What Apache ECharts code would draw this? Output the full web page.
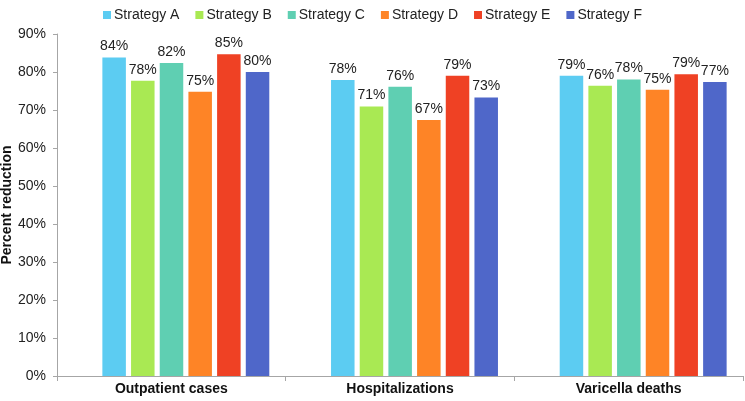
<!DOCTYPE html>
<html><head><meta charset="utf-8">
<script src="https://cdn.jsdelivr.net/npm/echarts@6/dist/echarts.min.js"></script>
<style>html,body{margin:0;padding:0;background:#fff}#c{width:745px;height:401px}</style>
</head><body><div id="c"></div>
<script>
const categories = ['Outpatient cases', 'Hospitalizations', 'Varicella deaths'];
const seriesNames = ['Strategy A', 'Strategy B', 'Strategy C', 'Strategy D', 'Strategy E', 'Strategy F'];
const strategyA = [83.8, 77.9, 79.0];
const strategyB = [77.7, 70.9, 76.4];
const strategyC = [82.4, 76.1, 78.0];
const strategyD = [74.8, 67.4, 75.3];
const strategyE = [84.7, 79.0, 79.4];
const strategyF = [80.0, 73.3, 77.4];
const colors = ['#5CCCF2', '#A9E953', '#5FCFB2', '#FE8426', '#EF4124', '#4F67C9'];
const allData = [strategyA, strategyB, strategyC, strategyD, strategyE, strategyF];
const font = 'Liberation Sans, Arial, sans-serif';

const chart = echarts.init(document.getElementById('c'), null, {renderer: 'canvas'});
chart.setOption({
  animation: false,
  color: colors,
  legend: {
    top: 3, left: 'center',
    icon: 'rect', itemWidth: 8, itemHeight: 8, itemGap: 16,
    textStyle: {fontFamily: font, fontSize: 14, color: '#222', padding: [0, 0, 0, -2]},
    data: seriesNames
  },
  grid: [
    {left: 57, width: 686, top: 34, bottom: 25, containLabel: false, outerBoundsMode: 'none'},
    {left: 71.5, width: 686, top: 34, bottom: 25, containLabel: false, outerBoundsMode: 'none'}
  ],
  xAxis: [{
    gridIndex: 0, type: 'category', data: categories,
    axisLine: {show: true, lineStyle: {color: '#A6A6A6'}},
    axisTick: {show: true, length: 5, lineStyle: {color: '#A6A6A6'}},
    axisLabel: {fontFamily: font, fontSize: 14, fontWeight: 'bold', color: '#111', margin: 6}
  }, {
    gridIndex: 1, type: 'category', data: categories, show: false
  }],
  yAxis: [{
    gridIndex: 0, type: 'value', min: 0, max: 90, interval: 10,
    name: 'Percent reduction', nameLocation: 'middle', nameGap: 43, nameMoveOverlap: false,
    nameTextStyle: {fontFamily: font, fontSize: 14, fontWeight: 'bold', color: '#111'},
    axisLine: {show: true, lineStyle: {color: '#A6A6A6'}},
    axisTick: {show: true, length: 4, lineStyle: {color: '#A6A6A6'}},
    splitLine: {show: false},
    axisLabel: {formatter: '{value}%', fontFamily: font, fontSize: 14, color: '#222', margin: 11}
  }, {
    gridIndex: 1, type: 'value', min: 0, max: 90, interval: 10, show: false, splitLine: {show: false}
  }],
  series: seriesNames.map((n, i) => ({
    name: n, type: 'bar', data: allData[i], xAxisIndex: 1, yAxisIndex: 1,
    barGap: '22%', barCategoryGap: '27%',
    label: {show: true, position: 'top', distance: 4, fontFamily: font, fontSize: 14, color: '#222',
      formatter: p => Math.round(p.value) + '%'}
  }))
});
</script></body></html>
